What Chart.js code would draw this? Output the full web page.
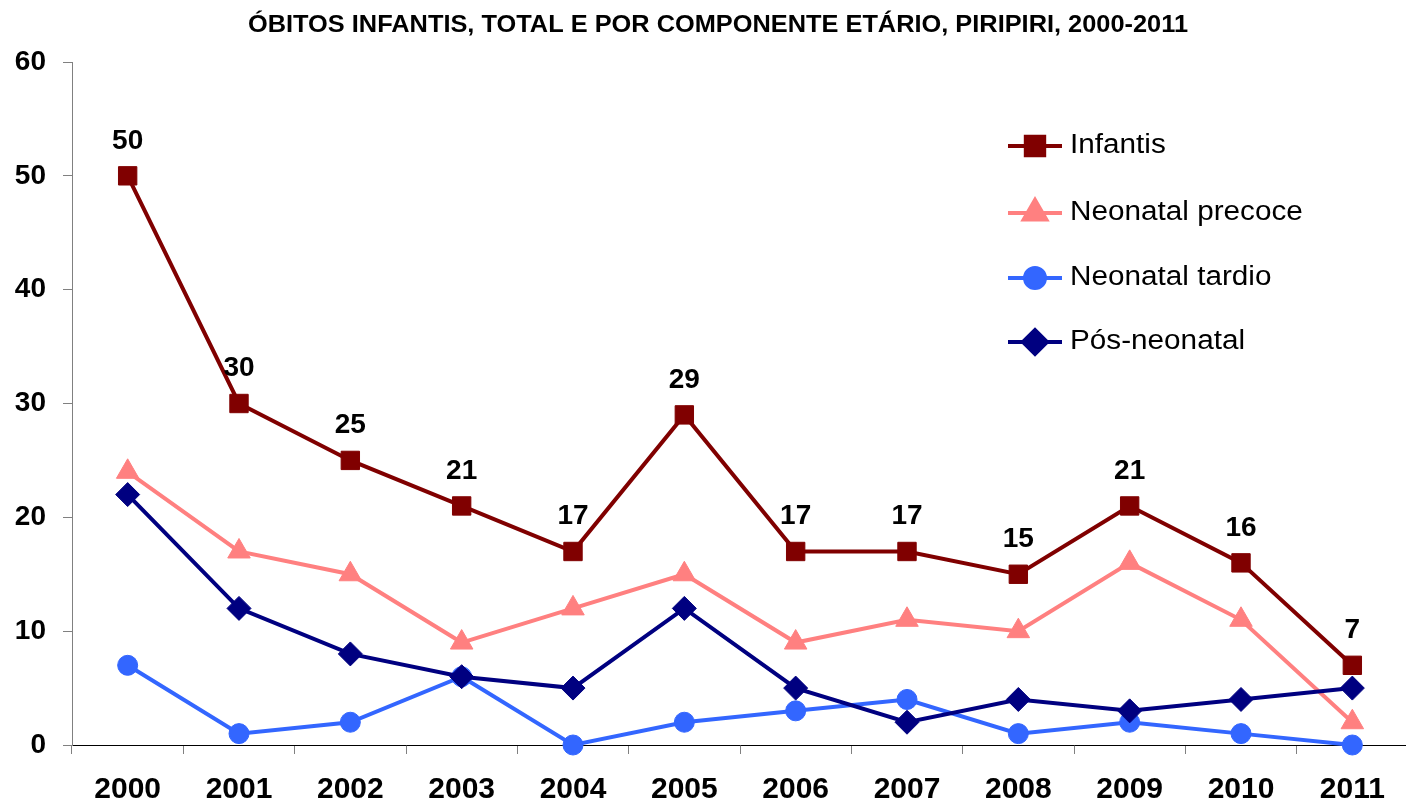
<!DOCTYPE html>
<html>
<head>
<meta charset="utf-8">
<script src="https://cdn.jsdelivr.net/npm/chart.js@4"></script>
<style>
html,body{margin:0;padding:0;overflow:hidden;background:#fff;}
#wrap{width:1422px;height:803px;position:relative;}
</style>
</head>
<body>
<div id="wrap"><canvas id="c" width="1422" height="803"></canvas></div>
<script>
const years = ['2000','2001','2002','2003','2004','2005','2006','2007','2008','2009','2010','2011'];
const infantis = [50,30,25,21,17,29,17,17,15,21,16,7];
const neonatalPrecoce = [24,17,15,9,12,15,9,11,10,16,11,2];
const neonatalTardio = [7,1,2,6,0,2,3,4,1,2,1,0];
const posNeonatal = [22,12,8,6,5,12,5,2,4,3,4,5];
const yTicks = [0,10,20,30,40,50,60];
const titleText = 'ÓBITOS INFANTIS, TOTAL E POR COMPONENTE ETÁRIO, PIRIPIRI, 2000-2011';

const FONT = '"Liberation Sans", Arial, sans-serif';

function ds(label, data, color, style, radius, order) {
  return {
    label, data, borderColor: color, backgroundColor: color,
    borderWidth: 4, pointStyle: style, pointRadius: radius, pointHoverRadius: radius,
    pointBorderWidth: 1, pointBorderColor: color, pointBackgroundColor: color,
    tension: 0, clip: false, order
  };
}

const titlePlugin = {
  id: 'titlePlugin',
  afterDraw(chart) {
    const ctx = chart.ctx;
    ctx.save();
    ctx.font = 'bold 23px ' + FONT;
    ctx.fillStyle = '#000';
    ctx.textAlign = 'center';
    ctx.textBaseline = 'middle';
    const w = ctx.measureText(titleText).width;
    const sx = 940 / w;
    ctx.translate(718, 26);
    ctx.scale(sx, 1);
    ctx.fillText(titleText, 0, 0);
    ctx.restore();
  }
};

const dataLabelPlugin = {
  id: 'dataLabelPlugin',
  afterDatasetsDraw(chart) {
    const ctx = chart.ctx;
    const meta = chart.getDatasetMeta(0);
    ctx.save();
    ctx.font = 'bold 28px ' + FONT;
    ctx.fillStyle = '#000';
    ctx.textAlign = 'center';
    ctx.textBaseline = 'middle';
    meta.data.forEach((pt, i) => {
      ctx.fillText(String(infantis[i]), pt.x, pt.y - 35);
    });
    ctx.restore();
  }
};

const legendPlugin = {
  id: 'legendPlugin',
  afterDraw(chart) {
    const ctx = chart.ctx;
    const ys = [146, 213, 278, 342];
    ctx.save();
    chart.data.datasets.forEach((d, i) => {
      const y = ys[i];
      ctx.strokeStyle = d.borderColor;
      ctx.lineWidth = 4;
      ctx.beginPath();
      ctx.moveTo(1008, y);
      ctx.lineTo(1062, y);
      ctx.stroke();
      Chart.helpers.drawPoint(ctx, {
        pointStyle: d.pointStyle, radius: d.pointRadius, rotation: 0, borderWidth: 1
      }, 1035, y);
      ctx.fillStyle = d.backgroundColor;
      ctx.strokeStyle = d.borderColor;
      ctx.lineWidth = 1;
      ctx.fill();
      ctx.stroke();
      ctx.save();
      ctx.fillStyle = '#000';
      ctx.font = '27px ' + FONT;
      ctx.textAlign = 'left';
      ctx.textBaseline = 'middle';
      ctx.translate(1070, y);
      ctx.scale(1.1, 1);
      ctx.fillText(d.label, 0, 0);
      ctx.restore();
    });
    ctx.restore();
  }
};

new Chart(document.getElementById('c'), {
  type: 'line',
  data: {
    labels: years,
    datasets: [
      ds('Infantis', infantis, '#800000', 'rect', 13, 4),
      ds('Neonatal precoce', neonatalPrecoce, '#FF8080', 'triangle', 13, 3),
      ds('Neonatal tardio', neonatalTardio, '#3366FF', 'circle', 10, 2),
      ds('Pós-neonatal', posNeonatal, '#000080', 'rectRot', 12, 1)
    ]
  },
  options: {
    responsive: false,
    animation: false,
    devicePixelRatio: 1,
    layout: { padding: { top: 62, left: 0, right: 0, bottom: 0 } },
    plugins: { legend: { display: false }, title: { display: false }, tooltip: { enabled: false } },
    scales: {
      x: {
        offset: true,
        afterFit(scale) { scale.height = 58; },
        grid: { offset: true, drawOnChartArea: false, drawTicks: true, tickLength: 9, color: '#808080' },
        border: { display: true, color: '#000', width: 1 },
        ticks: { color: '#000', font: { family: FONT, size: 30, weight: 'bold' }, padding: 18, maxRotation: 0, autoSkip: false }
      },
      y: {
        min: 0, max: 60,
        afterFit(scale) { scale.width = 72; },
        afterBuildTicks(scale) { scale.ticks = yTicks.map(v => ({ value: v })); },
        grid: { drawOnChartArea: false, drawTicks: true, tickLength: 9, color: '#808080' },
        border: { display: true, color: '#808080', width: 1 },
        ticks: { color: '#000', font: { family: FONT, size: 28, weight: 'bold' }, padding: 17 }
      }
    }
  },
  plugins: [titlePlugin, dataLabelPlugin, legendPlugin]
});
</script>
</body>
</html>
